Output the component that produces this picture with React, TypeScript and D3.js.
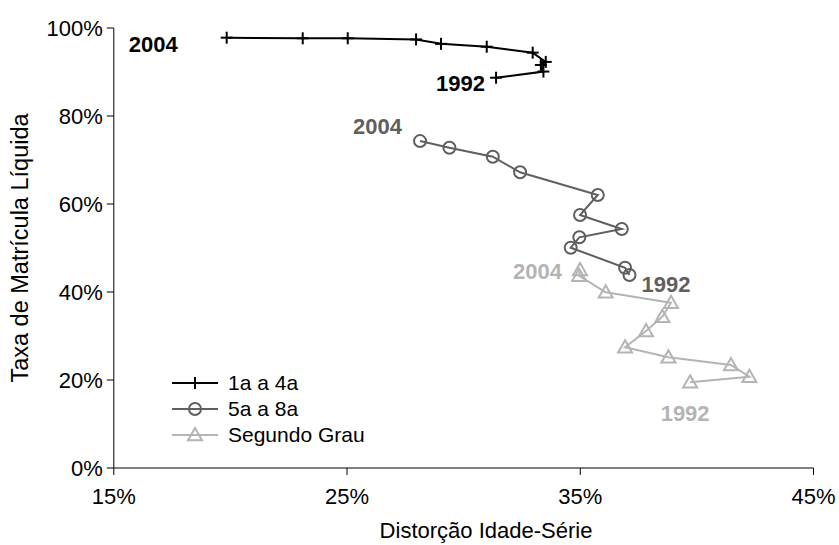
import React from "react";
import * as d3 from "d3";

const years = [1992, 1993, 1995, 1996, 1997, 1998, 1999, 2001, 2002, 2003, 2004];

const s1x = [31.39, 33.42, 33.31, 33.52, 32.96, 30.99, 29.03, 27.96, 25.03, 23.1, 19.84];
const s1y = [88.7, 90.1, 91.6, 92.3, 94.4, 95.75, 96.4, 97.4, 97.66, 97.66, 97.8];

const s2x = [37.11, 36.92, 34.59, 34.96, 36.78, 34.99, 35.75, 32.42, 31.25, 29.39, 28.13];
const s2y = [43.86, 45.52, 50.07, 52.43, 54.32, 57.5, 62.05, 67.2, 70.75, 72.8, 74.3];

const s3x = [39.71, 42.25, 41.46, 38.78, 36.92, 37.82, 38.52, 38.89, 36.09, 34.95, 34.99];
const s3y = [19.48, 20.75, 23.41, 25.16, 27.43, 31.14, 34.39, 37.57, 39.93, 43.7, 45.0];

const seriesNames = ["1a a 4a", "5a a 8a", "Segundo Grau"];
const xTicks = [15, 25, 35, 45];
const yTicks = [0, 20, 40, 60, 80, 100];

const colors = ["#000000", "#5f5f5f", "#b4b4b4"];
const markers = ["plus", "circle", "triangle"];
// label offsets (dx, dy, anchor) for first (1992) and last (2004) points
const labelStyle = [
  { first: { dx: -11, dy: 13, anchor: "end" }, last: { dx: -49, dy: 14, anchor: "end" } },
  { first: { dx: 12, dy: 17, anchor: "start" }, last: { dx: -18, dy: -7, anchor: "end" } },
  { first: { dx: -5, dy: 39, anchor: "middle" }, last: { dx: -18, dy: 9, anchor: "end" } },
];

const FONT = "'Liberation Sans', Arial, sans-serif";

function Marker({ type, x, y, color }: { type: string; x: number; y: number; color: string }) {
  if (type === "plus") {
    return (
      <g stroke={color} strokeWidth={2}>
        <line x1={x - 6} x2={x + 6} y1={y} y2={y} />
        <line x1={x} x2={x} y1={y - 6} y2={y + 6} />
      </g>
    );
  }
  if (type === "circle") {
    return <circle cx={x} cy={y} r={6} fill="none" stroke={color} strokeWidth={2} />;
  }
  const s = 7;
  return (
    <path
      d={`M${x},${y - s}L${x + s},${y + s * 0.75}L${x - s},${y + s * 0.75}Z`}
      fill="none"
      stroke={color}
      strokeWidth={2}
    />
  );
}

export default function App() {
  const W = 839;
  const H = 545;
  const x = d3.scaleLinear().domain([15, 45]).range([113.8, 813.5]);
  const y = d3.scaleLinear().domain([0, 100]).range([468, 28]);
  const data = [
    s1x.map((v, i) => ({ x: v, y: s1y[i], year: years[i] })),
    s2x.map((v, i) => ({ x: v, y: s2y[i], year: years[i] })),
    s3x.map((v, i) => ({ x: v, y: s3y[i], year: years[i] })),
  ];
  const line = d3
    .line<{ x: number; y: number }>()
    .x((d) => x(d.x))
    .y((d) => y(d.y));

  return (
    <svg
      width={W}
      height={H}
      style={{ position: "absolute", left: 0, top: 0, background: "#fff" }}
      fontFamily={FONT}
    >
      {/* axes */}
      <g stroke="#000" strokeWidth={1}>
        <line x1={x(15)} x2={x(15)} y1={y(0)} y2={y(100)} />
        <line x1={x(15)} x2={x(45)} y1={y(0)} y2={y(0)} />
        {yTicks.map((t) => (
          <line key={"yt" + t} x1={x(15) - 7} x2={x(15)} y1={y(t)} y2={y(t)} />
        ))}
        {xTicks.map((t) => (
          <line key={"xt" + t} x1={x(t)} x2={x(t)} y1={y(0)} y2={y(0) + 7} />
        ))}
      </g>
      {yTicks.map((t) => (
        <text key={"yl" + t} x={x(15) - 11} y={y(t)} dy="0.35em" textAnchor="end" fontSize={22} fill="#000">
          {t}%
        </text>
      ))}
      {xTicks.map((t) => (
        <text key={"xl" + t} x={x(t)} y={y(0) + 36} textAnchor="middle" fontSize={22} fill="#000">
          {t}%
        </text>
      ))}
      <text x={486} y={538} textAnchor="middle" fontSize={22} fill="#000">
        Distorção Idade-Série
      </text>
      <text transform="translate(28,248) rotate(-90)" textAnchor="middle" fontSize={23.5} fill="#000">
        Taxa de Matrícula Líquida
      </text>

      {/* series */}
      {data.map((ser, si) => (
        <g key={"s" + si}>
          <path d={line(ser) || ""} fill="none" stroke={colors[si]} strokeWidth={2} />
          {ser.map((d, i) => (
            <Marker key={i} type={markers[si]} x={x(d.x)} y={y(d.y)} color={colors[si]} />
          ))}
          {[0, ser.length - 1].map((idx) => {
            const d = ser[idx];
            const st = idx === 0 ? labelStyle[si].first : labelStyle[si].last;
            return (
              <text
                key={"lab" + idx}
                x={x(d.x) + st.dx}
                y={y(d.y) + st.dy}
                textAnchor={st.anchor as any}
                fontSize={22}
                fontWeight="bold"
                fill={colors[si]}
              >
                {d.year}
              </text>
            );
          })}
        </g>
      ))}

      {/* legend */}
      {seriesNames.map((name, i) => {
        const ly = 383 + i * 26;
        return (
          <g key={"lg" + i}>
            <line x1={172} x2={218} y1={ly} y2={ly} stroke={colors[i]} strokeWidth={2} />
            <Marker type={markers[i]} x={195} y={ly} color={colors[i]} />
            <text x={228} y={ly} dy="0.35em" fontSize={21} fill="#000">
              {name}
            </text>
          </g>
        );
      })}
    </svg>
  );
}
